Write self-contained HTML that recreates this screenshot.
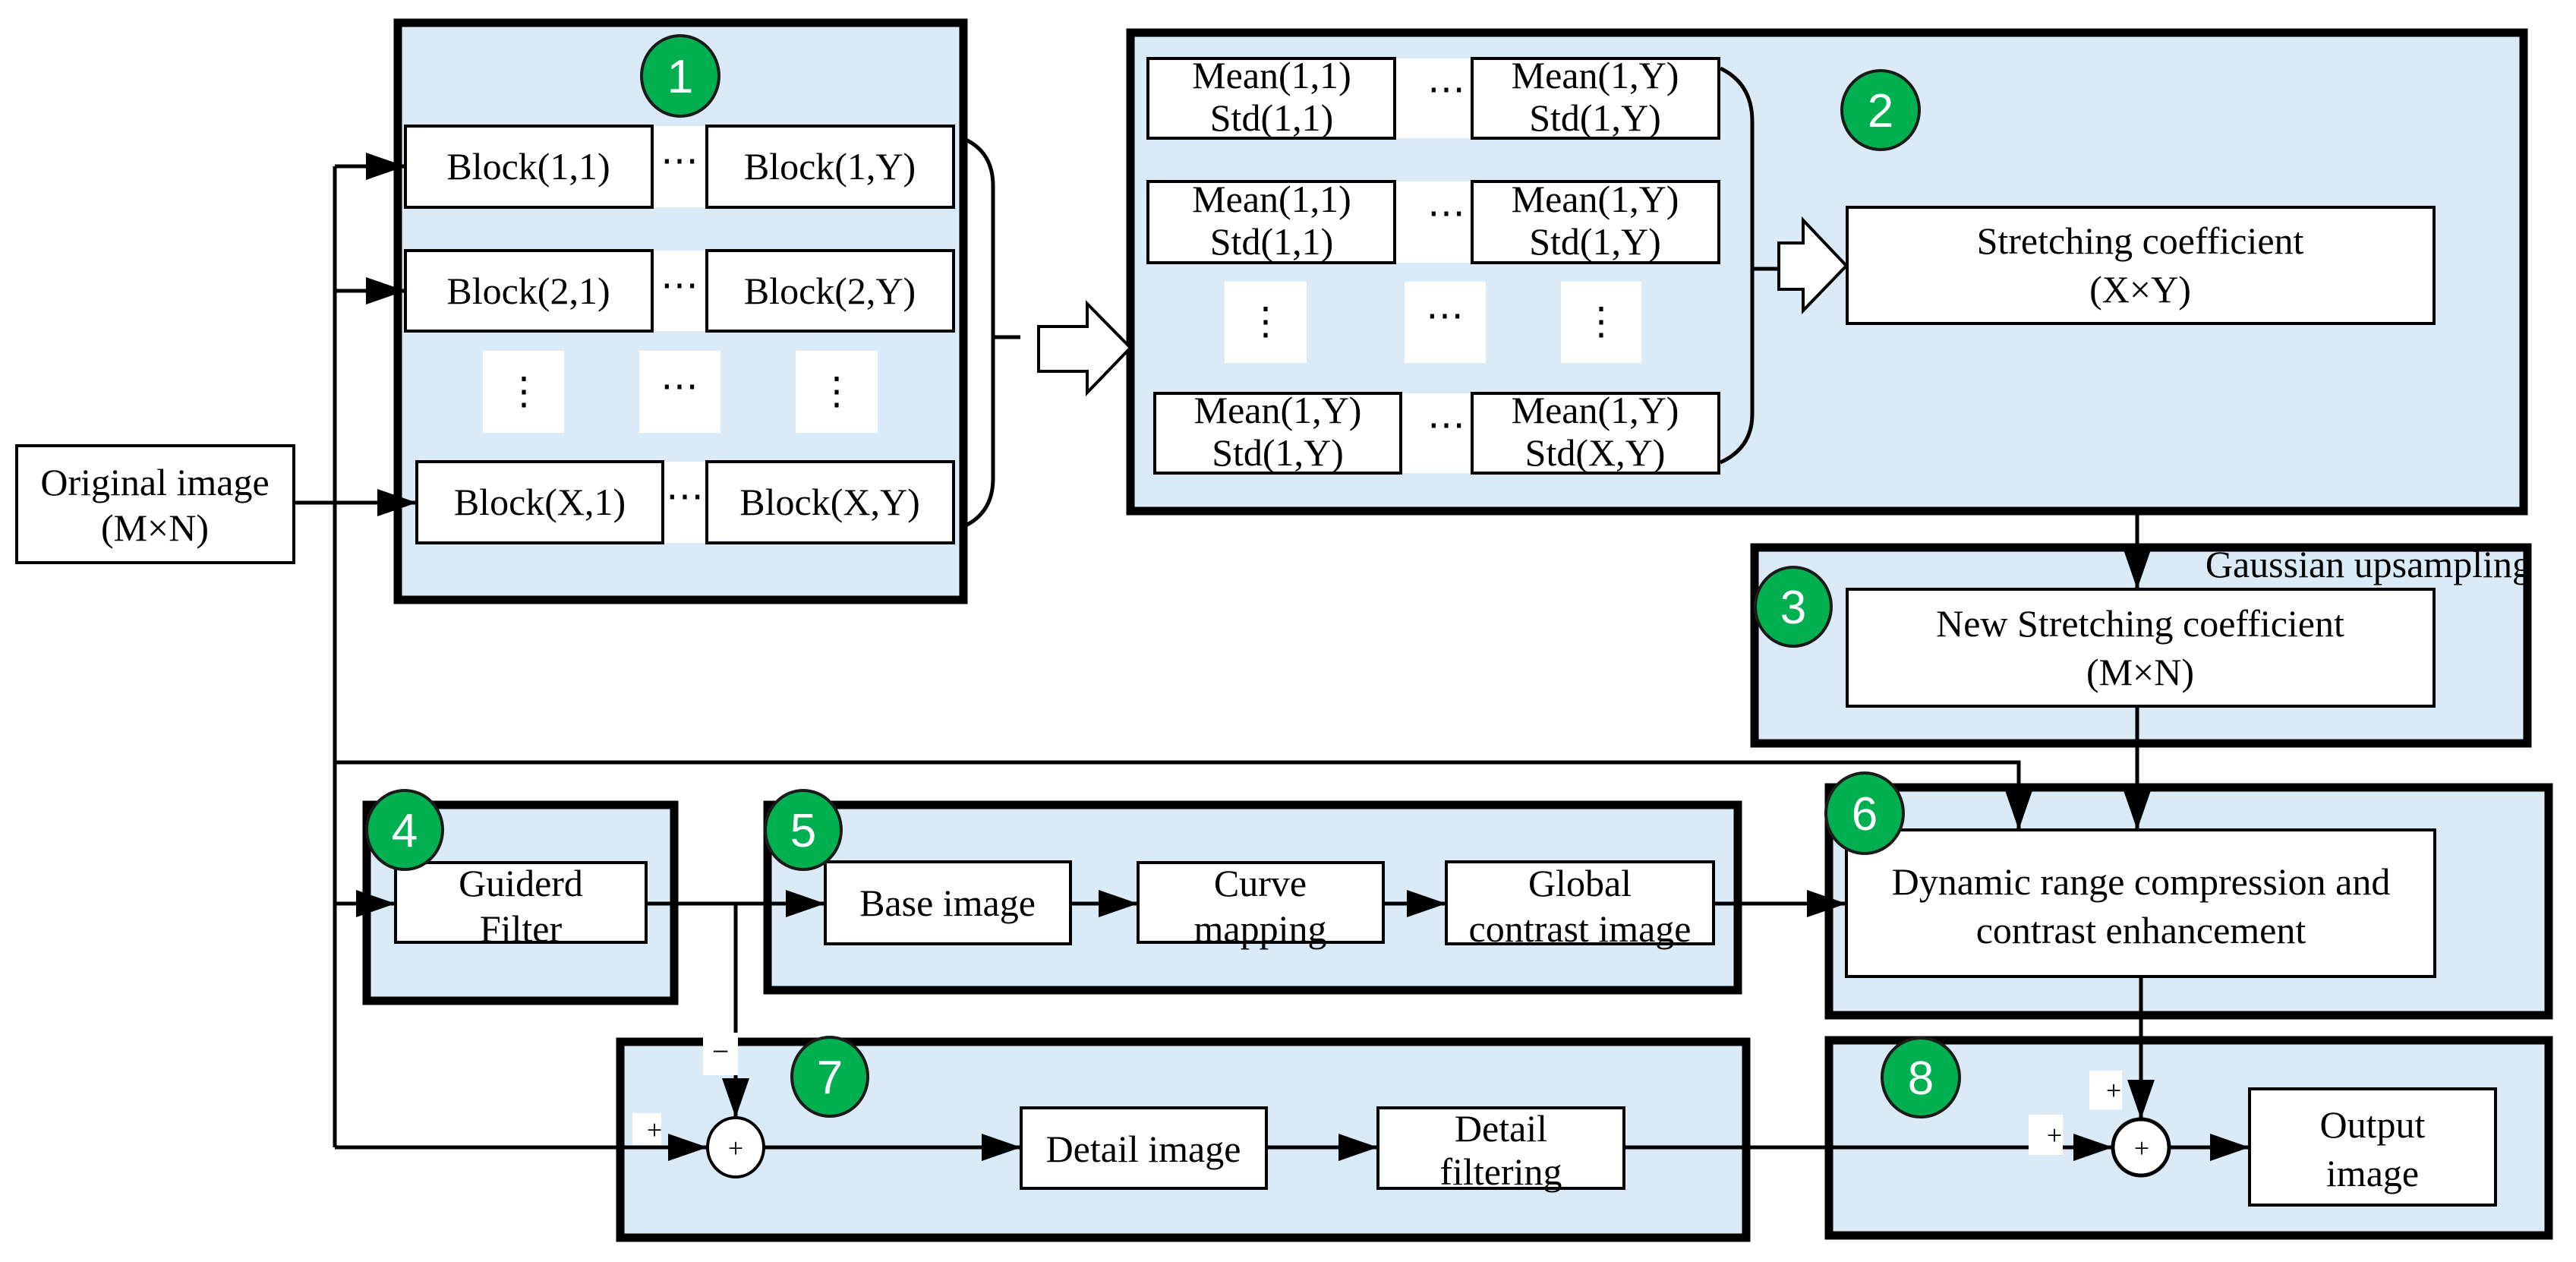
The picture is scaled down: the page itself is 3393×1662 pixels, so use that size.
<!DOCTYPE html>
<html><head><meta charset="utf-8"><style>
html,body{margin:0;padding:0;background:#fff}
svg{display:block}
text{font-family:"Liberation Serif",serif;font-size:50px;fill:#000}
.n{font-family:"Liberation Sans",sans-serif;font-size:62px;fill:#fff}
.g{fill:#DAEAF7;stroke:#000;stroke-width:11}
.b{fill:#fff;stroke:#000;stroke-width:4}
.l{fill:none;stroke:#000;stroke-width:5}
.w{fill:#fff;stroke:none}
.c{fill:#00B050;stroke:#1a1a1a;stroke-width:4}
</style></head><body>
<svg width="3393" height="1662" viewBox="0 0 3393 1662" xmlns="http://www.w3.org/2000/svg">
<defs>
<marker id="a" markerWidth="52" markerHeight="36" refX="52" refY="18" orient="auto" markerUnits="userSpaceOnUse"><path d="M0,0 L52,18 L0,36 Z" fill="#000"/></marker>
</defs>
<!-- group boxes -->
<rect class="g" x="524" y="30" width="745" height="760"/>
<rect class="g" x="1489" y="43" width="1835" height="630"/>
<rect class="g" x="2311" y="721" width="1018" height="258"/>
<rect class="g" x="483" y="1060" width="405" height="258"/>
<rect class="g" x="1011" y="1060" width="1278" height="244"/>
<rect class="g" x="817" y="1372" width="1483" height="258"/>
<rect class="g" x="2409" y="1037" width="948" height="300"/>
<rect class="g" x="2409" y="1370" width="948" height="257"/>

<!-- original -->
<rect class="b" x="22" y="587" width="365" height="154"/>
<text x="204" y="652" text-anchor="middle">Original image</text>
<text x="204" y="712" text-anchor="middle">(M×N)</text>

<!-- box1 blocks -->
<rect class="w" x="859" y="166" width="72" height="107"/>
<rect class="w" x="859" y="330" width="72" height="106"/>
<rect class="w" x="873" y="608" width="58" height="107"/>
<rect class="w" x="636" y="462" width="107" height="108"/>
<rect class="w" x="842" y="462" width="107" height="108"/>
<rect class="w" x="1048" y="462" width="108" height="108"/>
<rect class="b" x="534" y="166" width="325" height="107"/><text x="696" y="236" text-anchor="middle">Block(1,1)</text>
<rect class="b" x="931" y="166" width="325" height="107"/><text x="1093" y="236" text-anchor="middle">Block(1,Y)</text>
<rect class="b" x="534" y="330" width="325" height="106"/><text x="696" y="400" text-anchor="middle">Block(2,1)</text>
<rect class="b" x="931" y="330" width="325" height="106"/><text x="1093" y="400" text-anchor="middle">Block(2,Y)</text>
<rect class="b" x="549" y="608" width="324" height="107"/><text x="711" y="678" text-anchor="middle">Block(X,1)</text>
<rect class="b" x="931" y="608" width="325" height="107"/><text x="1093" y="678" text-anchor="middle">Block(X,Y)</text>
<text x="895" y="228" text-anchor="middle">⋯</text>
<text x="895" y="392" text-anchor="middle">⋯</text>
<text x="902" y="670" text-anchor="middle">⋯</text>
<text x="690" y="532" text-anchor="middle">⋮</text>
<text x="895" y="525" text-anchor="middle">⋯</text>
<text x="1102" y="532" text-anchor="middle">⋮</text>
<ellipse class="c" cx="896" cy="100" rx="51" ry="53"/><text class="n" x="896" y="122" text-anchor="middle">1</text>

<path class="l" d="M1270,183 Q1308,200 1308,245 L1308,630 Q1308,675 1270,693"/>
<path class="l" d="M1308,444 L1344,444"/>
<path d="M1368,430 L1432,430 L1432,400 L1489,458 L1432,517 L1432,489 L1368,489 Z" fill="#fff" stroke="#000" stroke-width="4"/>

<!-- box2 -->
<rect class="w" x="1837" y="77" width="102" height="105"/>
<rect class="w" x="1837" y="239" width="102" height="107"/>
<rect class="w" x="1845" y="518" width="94" height="105"/>
<rect class="w" x="1613" y="371" width="108" height="107"/>
<rect class="w" x="1850" y="371" width="107" height="107"/>
<rect class="w" x="2056" y="371" width="106" height="107"/>
<rect class="b" x="1512" y="77" width="325" height="105"/><text x="1675" y="116" text-anchor="middle">Mean(1,1)</text><text x="1675" y="172" text-anchor="middle">Std(1,1)</text>
<rect class="b" x="1939" y="77" width="325" height="105"/><text x="2101" y="116" text-anchor="middle">Mean(1,Y)</text><text x="2101" y="172" text-anchor="middle">Std(1,Y)</text>
<rect class="b" x="1512" y="239" width="325" height="107"/><text x="1675" y="279" text-anchor="middle">Mean(1,1)</text><text x="1675" y="335" text-anchor="middle">Std(1,1)</text>
<rect class="b" x="1939" y="239" width="325" height="107"/><text x="2101" y="279" text-anchor="middle">Mean(1,Y)</text><text x="2101" y="335" text-anchor="middle">Std(1,Y)</text>
<rect class="b" x="1521" y="518" width="324" height="105"/><text x="1683" y="557" text-anchor="middle">Mean(1,Y)</text><text x="1683" y="613" text-anchor="middle">Std(1,Y)</text>
<rect class="b" x="1939" y="518" width="325" height="105"/><text x="2101" y="557" text-anchor="middle">Mean(1,Y)</text><text x="2101" y="613" text-anchor="middle">Std(X,Y)</text>
<text x="1905" y="134" text-anchor="middle">⋯</text>
<text x="1905" y="297" text-anchor="middle">⋯</text>
<text x="1905" y="576" text-anchor="middle">⋯</text>
<text x="1667" y="440" text-anchor="middle">⋮</text>
<text x="1903" y="432" text-anchor="middle">⋯</text>
<text x="2109" y="440" text-anchor="middle">⋮</text>
<path class="l" d="M2266,90 Q2308,110 2308,160 L2308,545 Q2308,590 2266,609"/>
<path class="l" d="M2308,354 L2343,354"/>
<path d="M2343,320 L2375,320 L2375,290 L2432,350 L2375,409 L2375,381 L2343,381 Z" fill="#fff" stroke="#000" stroke-width="4"/>
<ellipse class="c" cx="2477" cy="145" rx="51" ry="52"/><text class="n" x="2477" y="167" text-anchor="middle">2</text>
<rect class="b" x="2433" y="273" width="773" height="153"/>
<text x="2819" y="334" text-anchor="middle">Stretching coefficient</text>
<text x="2819" y="398" text-anchor="middle">(X×Y)</text>

<!-- box3 -->
<path class="l" d="M2815,678 L2815,776" marker-end="url(#a)"/>
<text x="3334" y="760" text-anchor="end">Gaussian upsampling</text>
<ellipse class="c" cx="2362" cy="799" rx="50" ry="52"/><text class="n" x="2362" y="821" text-anchor="middle">3</text>
<rect class="b" x="2433" y="776" width="773" height="154"/>
<text x="2819" y="838" text-anchor="middle">New Stretching coefficient</text>
<text x="2819" y="902" text-anchor="middle">(M×N)</text>

<!-- connectors left -->
<path class="l" d="M441,219 L441,1511"/>
<path class="l" d="M441,219 L534,219" marker-end="url(#a)"/>
<path class="l" d="M441,383 L534,383" marker-end="url(#a)"/>
<path class="l" d="M387,662 L549,662" marker-end="url(#a)"/>
<path class="l" d="M441,1004 L2659,1004 L2659,1093" marker-end="url(#a)"/>
<path class="l" d="M2815,930 L2815,1093" marker-end="url(#a)"/>

<!-- box4 -->
<rect class="b" x="521" y="1136" width="330" height="105"/>
<text x="686" y="1180" text-anchor="middle">Guiderd</text>
<text x="686" y="1240" text-anchor="middle">Filter</text>
<path class="l" d="M441,1190 L521,1190" marker-end="url(#a)"/>
<ellipse class="c" cx="533" cy="1093" rx="50" ry="52"/><text class="n" x="533" y="1115" text-anchor="middle">4</text>

<!-- box5 -->
<rect class="b" x="1087" y="1135" width="323" height="108"/><text x="1248" y="1206" text-anchor="middle">Base image</text>
<rect class="b" x="1499" y="1136" width="323" height="105"/><text x="1660" y="1180" text-anchor="middle">Curve</text><text x="1660" y="1240" text-anchor="middle">mapping</text>
<rect class="b" x="1905" y="1135" width="352" height="108"/><text x="2081" y="1180" text-anchor="middle">Global</text><text x="2081" y="1240" text-anchor="middle">contrast image</text>
<path class="l" d="M851,1190 L1087,1190" marker-end="url(#a)"/>
<path class="l" d="M1410,1190 L1499,1190" marker-end="url(#a)"/>
<path class="l" d="M1822,1190 L1905,1190" marker-end="url(#a)"/>
<path class="l" d="M2257,1190 L2432,1190" marker-end="url(#a)"/>
<ellipse class="c" cx="1058" cy="1093" rx="50" ry="52"/><text class="n" x="1058" y="1115" text-anchor="middle">5</text>

<!-- box6 -->
<rect class="b" x="2432" y="1093" width="775" height="193"/>
<text x="2820" y="1178" text-anchor="middle">Dynamic range compression and</text>
<text x="2820" y="1242" text-anchor="middle">contrast enhancement</text>
<ellipse class="c" cx="2456" cy="1071" rx="51" ry="53"/><text class="n" x="2456" y="1093" text-anchor="middle">6</text>

<!-- box7 -->
<path class="l" d="M969,1190 L969,1472" marker-end="url(#a)"/>
<rect class="w" x="926" y="1360" width="46" height="56"/><text x="949" y="1398" text-anchor="middle" style="font-size:40px">−</text>
<path class="l" d="M441,1511 L932,1511" marker-end="url(#a)"/>
<rect class="w" x="833" y="1466" width="38" height="42"/><text x="862" y="1500" text-anchor="middle" style="font-size:36px">+</text>
<ellipse cx="969" cy="1511" rx="37" ry="39" fill="#fff" stroke="#000" stroke-width="4"/>
<text x="969" y="1524" text-anchor="middle" style="font-size:36px">+</text>
<ellipse class="c" cx="1093" cy="1418" rx="50" ry="52"/><text class="n" x="1093" y="1440" text-anchor="middle">7</text>
<rect class="b" x="1345" y="1459" width="323" height="106"/><text x="1506" y="1530" text-anchor="middle">Detail image</text>
<rect class="b" x="1815" y="1459" width="324" height="106"/><text x="1977" y="1503" text-anchor="middle">Detail</text><text x="1977" y="1560" text-anchor="middle">filtering</text>
<path class="l" d="M1006,1511 L1345,1511" marker-end="url(#a)"/>
<path class="l" d="M1668,1511 L1815,1511" marker-end="url(#a)"/>

<!-- box8 -->
<path class="l" d="M2139,1511 L2783,1511" marker-end="url(#a)"/>
<path class="l" d="M2820,1286 L2820,1474" marker-end="url(#a)"/>
<rect class="w" x="2752" y="1410" width="43" height="51"/><text x="2784" y="1448" text-anchor="middle" style="font-size:36px">+</text>
<rect class="w" x="2672" y="1468" width="45" height="53"/><text x="2706" y="1507" text-anchor="middle" style="font-size:36px">+</text>
<ellipse cx="2820" cy="1511" rx="37" ry="37" fill="#fff" stroke="#000" stroke-width="5"/>
<text x="2821" y="1524" text-anchor="middle" style="font-size:36px">+</text>
<path class="l" d="M2857,1511 L2963,1511" marker-end="url(#a)"/>
<ellipse class="c" cx="2530" cy="1419" rx="51" ry="52"/><text class="n" x="2530" y="1441" text-anchor="middle">8</text>
<rect class="b" x="2963" y="1434" width="324" height="153"/>
<text x="3125" y="1498" text-anchor="middle">Output</text>
<text x="3125" y="1562" text-anchor="middle">image</text>
</svg>
</body></html>
